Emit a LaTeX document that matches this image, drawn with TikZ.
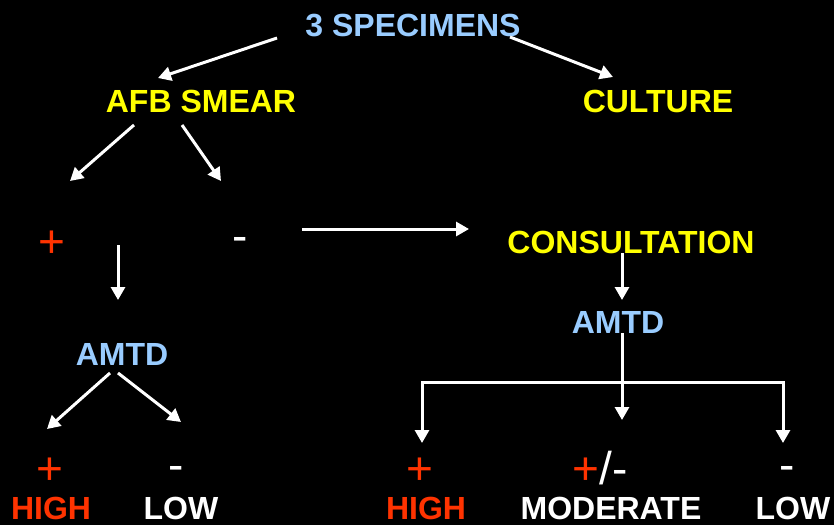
\documentclass[tikz,border=0pt]{standalone}
\usepackage{fontspec}
\setmainfont{Liberation Sans}
\usetikzlibrary{arrows.meta}
\definecolor{skyblue}{RGB}{153,204,255}
\definecolor{hiyellow}{RGB}{255,255,0}
\definecolor{hired}{RGB}{255,51,0}

\begin{document}
\begin{tikzpicture}[x=1pt, y=-1pt, ->, >={Triangle[length=13pt,width=14pt]}, line width=3pt, white,
  lbl/.style={anchor=base, inner sep=0pt, font=\fontsize{32}{36}\selectfont\bfseries},
  sgn/.style={anchor=base, inner sep=0pt, font=\fontsize{46}{50}\selectfont}]
\fill[black] (0,0) rectangle (834,525);
\useasboundingbox (0,0) rectangle (834,525);
\node[lbl, text=skyblue] (spec) at (413,36) {3 SPECIMENS};
\node[lbl, text=hiyellow] (afb) at (201,112) {AFB SMEAR};
\node[lbl, text=hiyellow] (cult) at (658,112) {CULTURE};
\node[sgn, text=hired] (pos) at (52,257) {+};
\node[sgn] (neg) at (240,251) {-};
\node[lbl, text=hiyellow] (consult) at (631,253) {CONSULTATION};
\node[lbl, text=skyblue] (amtdL) at (122,365) {AMTD};
\node[lbl, text=skyblue] (amtdR) at (618,333) {AMTD};
\node[sgn, text=hired] (posL) at (50,484) {+};
\node[sgn] (negL) at (176,480) {-};
\node[lbl, text=hired] (highL) at (51,519) {HIGH};
\node[lbl] (lowL) at (181,519) {LOW};
\node[sgn, text=hired] (posR) at (420,484) {+};
\node[sgn] (pmR) at (600,484) {\textcolor{hired}{+}/-};
\node[sgn] (negR) at (787,480) {-};
\node[lbl, text=hired] (highR) at (426,519) {HIGH};
\node[lbl] (modR) at (611,519) {MODERATE};
\node[lbl] (lowR) at (793,519) {LOW};
\path ([shift={(-136,2)}]spec.base) edge ([shift={(-43,-34)}]afb.base)
	([shift={(97,1)}]spec.base) edge ([shift={(-45,-35)}]cult.base)
	([shift={(-67,13)}]afb.base) edge ([shift={(18,-76)}]pos.base)
	([shift={(-19,13)}]afb.base) edge ([shift={(-19,-70)}]neg.base)
	([shift={(66,-12)}]pos.base) edge ([shift={(-4,-65)}]amtdL.base)
	([shift={(62,-22)}]neg.base) edge ([shift={(-162,-24)}]consult.base)
	([shift={(-9,0)}]consult.base) edge ([shift={(4,-33)}]amtdR.base)
	([shift={(4,0)}]amtdR.base) edge ([shift={(22,-64)}]pmR.base)
	([shift={(-12,8)}]amtdL.base) edge ([shift={(-3,-55)}]posL.base)
	([shift={(-4,8)}]amtdL.base) edge ([shift={(5,-58)}]negL.base);
\draw ([shift={(4,49)}]amtdR.base) -| ([shift={(2,-41)}]posR.base);
\draw ([shift={(4,49)}]amtdR.base) -| ([shift={(-4,-37)}]negR.base);
\end{tikzpicture}
\end{document}
